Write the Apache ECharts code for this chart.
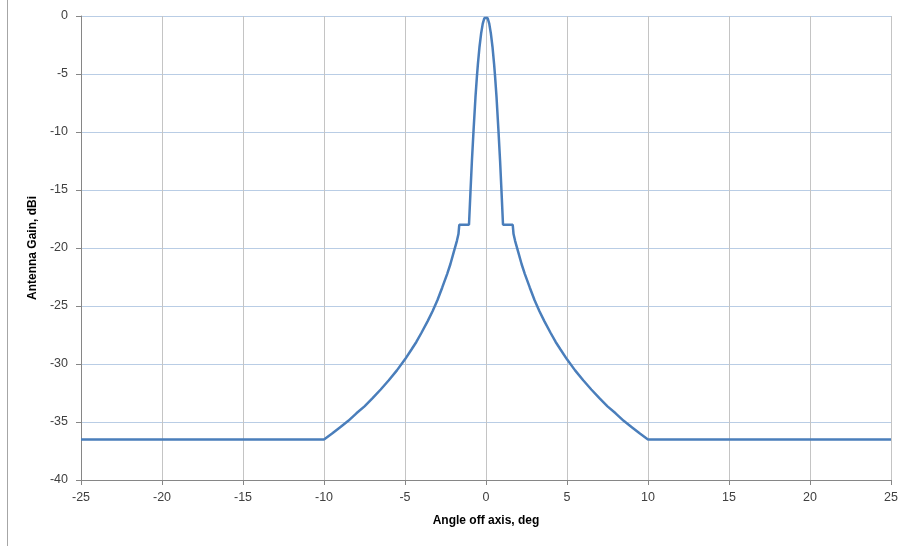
<!DOCTYPE html>
<html>
<head>
<meta charset="utf-8">
<script src="https://cdn.jsdelivr.net/npm/echarts@6/dist/echarts.min.js"></script>
<style>
  html, body { margin: 0; padding: 0; background: #fff; }
  #chart { width: 905px; height: 546px; }
</style>
</head>
<body>
<div id="chart"></div>
<script>
// angle off axis (deg) and gain (dBi)
var angles = [
  -25, -10, -9.5, -9, -8.5, -8, -7.5, -7, -6.5, -6, -5.5, -5, -4.6, -4.3, -4, -3.6, -3.3, -3,
  -2.7, -2.4, -2.2, -2, -1.8, -1.7, -1.65,
  -1.05, -0.96, -0.87, -0.77, -0.65, -0.56, -0.5, -0.4, -0.3, -0.2, -0.1, 0,
  0.1, 0.2, 0.3, 0.4, 0.5, 0.56, 0.65, 0.77, 0.87, 0.96, 1.05,
  1.65, 1.7, 1.8, 2, 2.2, 2.4, 2.7, 3, 3.3, 3.6, 4, 4.3, 4.6, 5,
  5.5, 6, 6.5, 7, 7.5, 8, 8.5, 9, 9.5, 10, 25
];
var gains = [
  -36.5, -36.5, -36.0, -35.45, -34.9, -34.25, -33.65, -32.95, -32.2, -31.4, -30.55, -29.6, -28.75, -28.1, -27.35, -26.3, -25.45, -24.5,
  -23.4, -22.25, -21.4, -20.4, -19.4, -18.8, -18,
  -18, -15.2, -12.5, -9.9, -7.0, -5.2, -4.15, -2.65, -1.5, -0.66, -0.17, 0,
  -0.17, -0.66, -1.5, -2.65, -4.15, -5.2, -7.0, -9.9, -12.5, -15.2, -18,
  -18, -18.8, -19.4, -20.4, -21.4, -22.25, -23.4, -24.5, -25.45, -26.3, -27.35, -28.1, -28.75, -29.6,
  -30.55, -31.4, -32.2, -32.95, -33.65, -34.25, -34.9, -35.45, -36.0, -36.5, -36.5
];

var points = angles.map(function(a, i) { return [a, gains[i]]; });

var chart = echarts.init(document.getElementById('chart'));
var fontFam = 'Liberation Sans, Arial, sans-serif';
var labelFont = {color: '#404040', fontSize: 12.5, fontFamily: fontFam};
var titleFont = {color: '#000', fontSize: 12, fontWeight: 'bold', fontFamily: fontFam};

chart.setOption({
    animation: false,
    grid: {left: 81, right: 14, top: 16, bottom: 66},
    graphic: [{
        type: 'line',
        shape: {x1: 7.5, y1: 0, x2: 7.5, y2: 546},
        style: {stroke: '#a6a6a6', lineWidth: 1}
    }],
    xAxis: {
        type: 'value', min: -25, max: 25, interval: 5,
        name: 'Angle off axis, deg', nameLocation: 'middle', nameGap: 35,
        nameTextStyle: titleFont,
        axisLine: {onZero: false, lineStyle: {color: '#868686'}},
        axisTick: {show: true, inside: false, length: 5, lineStyle: {color: '#868686'}},
        axisLabel: Object.assign({margin: 11}, labelFont),
        splitLine: {show: true, lineStyle: {color: '#c4c4c4', width: 1}}
    },
    yAxis: {
        type: 'value', min: -40, max: 0, interval: 5,
        name: 'Antenna Gain, dBi', nameLocation: 'middle', nameGap: 38, nameRotate: 90,
        nameTextStyle: titleFont,
        axisLine: {show: true, onZero: false, lineStyle: {color: '#868686'}},
        axisTick: {show: true, length: 5, lineStyle: {color: '#868686'}},
        axisLabel: Object.assign({margin: 13}, labelFont),
        splitLine: {show: true, lineStyle: {color: '#b9cde5', width: 1}}
    },
    series: [{
        type: 'line',
        data: points,
        showSymbol: false,
        smooth: false,
        lineStyle: {color: '#4a7ebb', width: 2.5},
        z: 5
    }]
});
</script>
</body>
</html>
